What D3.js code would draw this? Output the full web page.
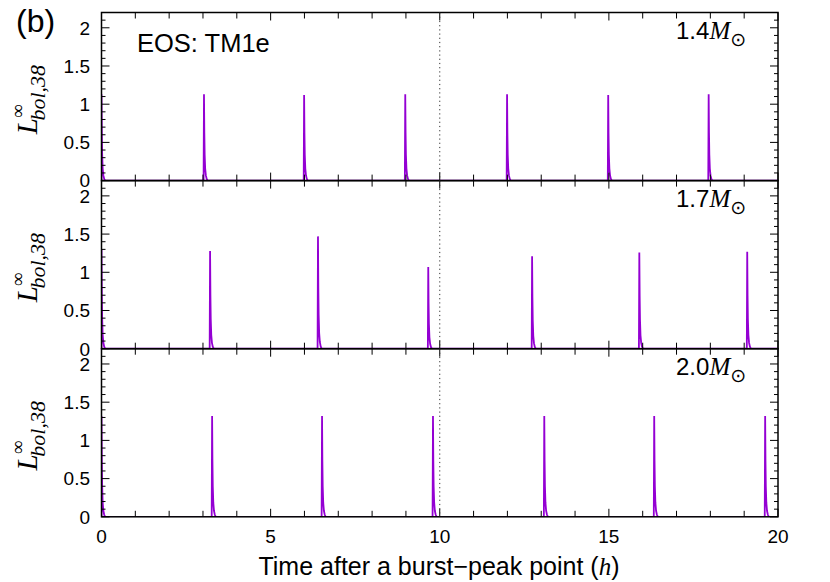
<!DOCTYPE html>
<meta charset="utf-8">
<script src="https://d3js.org/d3.v7.min.js"></script>
<html>

<style>
body {
  margin: 0;
  background: #fff;
}
text {
  font-family: "Liberation Sans", Arial, sans-serif;
  fill: #000;
}
.math {
  font-family: "Liberation Serif", "DejaVu Serif", serif;
  font-style: italic;
}
</style>

<body>
  <div id="chart"></div>
</body>

<script>
// panel labels (stellar mass)
var masses = ["1.4", "1.7", "2.0"];

// burst peak times (h) and peak luminosities for each mass
var peakTimes14 = [0, 3.03, 5.99, 8.98, 11.99, 14.98, 17.95];
var peakLum14   = [1.13, 1.13, 1.12, 1.13, 1.13, 1.12, 1.13];
var peakTimes17 = [0, 3.21, 6.40, 9.66, 12.73, 15.90, 19.09];
var peakLum17   = [1.30, 1.28, 1.47, 1.07, 1.21, 1.26, 1.27];
var peakTimes20 = [0, 3.27, 6.52, 9.80, 13.09, 16.34, 19.62];
var peakLum20   = [1.32, 1.32, 1.32, 1.32, 1.32, 1.32, 1.32];

// shape of one burst: time offset from peak (h) and fraction of peak
var burstDt   = [-0.012, 0, 0.01, 0.02, 0.035, 0.055, 0.08, 0.11];
var burstFrac = [0, 1, 0.55, 0.3, 0.14, 0.06, 0.02, 0];

var xTickLabels = [0, 5, 10, 15, 20];
var yTickLabels = [0, 0.5, 1, 1.5, 2];

var panels = [
  { mass: masses[0], times: peakTimes14, lum: peakLum14 },
  { mass: masses[1], times: peakTimes17, lum: peakLum17 },
  { mass: masses[2], times: peakTimes20, lum: peakLum20 }
];

// set the dimensions
var width = 830, height = 582;
var left = 101.5, right = 778, top0 = 12.5, panelH = 168.1;

var svg = d3.select("#chart")
  .append("svg")
  .attr("width", width)
  .attr("height", height);

var x = d3.scaleLinear().domain([0, 20]).range([left, right]);

var line = d3.line()
  .x(function (d) { return x(d[0]); });

panels.forEach(function (p, i) {
  var y0 = top0 + i * panelH;
  var y = d3.scaleLinear().domain([0, 2.2]).range([y0 + panelH, y0]);

  // build the light curve from the peak list
  var pts = [[0, 0]];
  p.times.forEach(function (t, k) {
    burstDt.forEach(function (dt, j) {
      pts.push([t + dt, p.lum[k] * burstFrac[j]]);
    });
  });
  pts.push([20, 0]);
  pts.sort(function (a, b) { return a[0] - b[0]; });

  var clipId = "clip" + i;
  svg.append("clipPath").attr("id", clipId)
    .append("rect")
    .attr("x", left).attr("y", y0)
    .attr("width", right - left).attr("height", panelH);

  svg.append("path")
    .datum(pts)
    .attr("clip-path", "url(#" + clipId + ")")
    .attr("fill", "none")
    .attr("stroke", "#9400d3")
    .attr("stroke-width", 1.8)
    .attr("d", line.y(function (d) { return y(d[1]); }));

  // ticks on all four sides, pointing inward
  var g = svg.append("g").attr("stroke", "#000").attr("stroke-width", 1);
  d3.range(0, 21, 1).forEach(function (v) {
    var len = v % 5 === 0 ? 8 : 6;
    g.append("line").attr("x1", x(v)).attr("x2", x(v))
      .attr("y1", y(0)).attr("y2", y(0) - len);
    g.append("line").attr("x1", x(v)).attr("x2", x(v))
      .attr("y1", y0).attr("y2", y0 + len);
  });
  d3.range(0, 22, 1).forEach(function (k) {
    var v = k / 10;
    var len = k % 5 === 0 ? 8 : 4;
    g.append("line").attr("x1", left).attr("x2", left + len)
      .attr("y1", y(v)).attr("y2", y(v));
    g.append("line").attr("x1", right).attr("x2", right - len)
      .attr("y1", y(v)).attr("y2", y(v));
  });

  // frame
  svg.append("rect")
    .attr("x", left).attr("y", y0)
    .attr("width", right - left).attr("height", panelH)
    .attr("fill", "none")
    .attr("stroke", "#000")
    .attr("stroke-width", 1.5);

  // y tick labels
  svg.selectAll(null)
    .data(yTickLabels)
    .enter().append("text")
    .attr("x", 90)
    .attr("y", function (d) { return y(d); })
    .attr("dy", "0.36em")
    .attr("text-anchor", "end")
    .style("font-size", "19px")
    .text(function (d) { return d; });

  // y axis title
  var yl = svg.append("text")
    .attr("class", "math")
    .attr("text-anchor", "middle")
    .attr("transform", "translate(37," + (y0 + panelH / 2 + 3) + ") rotate(-90)")
    .style("font-size", "29px");
  yl.append("tspan").text("L");
  yl.append("tspan").attr("dy", -13).style("font-size", "19px").style("font-style", "normal").text("\u221e");
  yl.append("tspan").attr("dx", -16).attr("dy", 21).style("font-size", "22px").text("bol,38");

  // mass label
  var ml = svg.append("text")
    .attr("x", 676)
    .attr("y", y0 + 26.5)
    .style("font-size", "24px");
  ml.append("tspan").text(p.mass);
  ml.append("tspan").attr("class", "math").style("font-size", "25px").text("M");
  ml.append("tspan").attr("dy", 7).style("font-size", "19px")
    .style("font-family", "'DejaVu Sans', sans-serif").text("\u2299");
});

// dotted line at 10 h
svg.append("line")
  .attr("x1", x(10)).attr("x2", x(10))
  .attr("y1", top0).attr("y2", top0 + 3 * panelH)
  .attr("stroke", "#333")
  .attr("stroke-width", 1)
  .attr("stroke-dasharray", "1.2,3");

// x tick labels
svg.selectAll(null)
  .data(xTickLabels)
  .enter().append("text")
  .attr("x", function (d) { return x(d); })
  .attr("y", 543)
  .attr("text-anchor", "middle")
  .style("font-size", "19px")
  .text(function (d) { return d; });

// x axis title
var xl = svg.append("text")
  .attr("x", 439)
  .attr("y", 575)
  .attr("text-anchor", "middle")
  .style("font-size", "25px");
xl.append("tspan").text("Time after a burst\u2212peak point (");
xl.append("tspan").attr("class", "math").text("h");
xl.append("tspan").text(")");

// panel tag and EOS label
svg.append("text")
  .attr("x", 16).attr("y", 32)
  .style("font-size", "32px")
  .text("(b)");

svg.append("text")
  .attr("x", 137).attr("y", 52)
  .style("font-size", "25.5px")
  .text("EOS: TM1e");
</script>

</html>
